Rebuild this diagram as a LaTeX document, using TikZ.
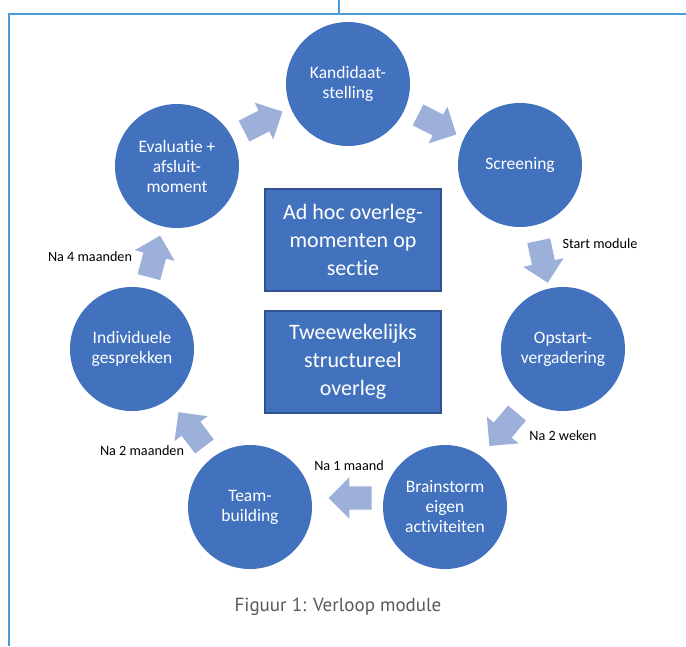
\documentclass[tikz,border=0pt]{standalone}
\usepackage{fontspec}
\setmainfont{Carlito}[RawFeature=-liga]
\newfontfamily\capfont{PT Sans}
\usetikzlibrary{shapes.arrows}
\definecolor{phaseblue}{RGB}{66,114,190}
\definecolor{boxline}{RGB}{47,82,143}
\definecolor{arrowblue}{RGB}{157,176,218}
\definecolor{frameblue}{RGB}{74,155,218}

\begin{document}
\begin{tikzpicture}[
  x=1pt, y=-1pt,
  phase/.style={circle, fill=phaseblue, minimum size=124pt, inner sep=0pt, text=white, align=center, font=\fontsize{17.5}{20}\selectfont},
  meeting/.style={draw=boxline, line width=1.2pt, fill=phaseblue, minimum width=176pt, minimum height=102pt, inner sep=0pt, text=white, align=center, font=\fontsize{22}{28}\selectfont},
  flow/.style={single arrow, fill=arrowblue, minimum height=43pt, inner xsep=0pt, inner ysep=11.5pt, single arrow head extend=9pt},
  note/.style={font=\fontsize{14.2}{16}\selectfont, inner sep=0pt},
  frame/.style={frameblue, line width=1.8pt}
]
\useasboundingbox (0,0) rectangle (686,646);

\draw[frame] (9,646) -- (9,14) -- (686,14);
\draw[frameblue, line width=1.2pt] (339,0) -- (339,14);

\node[phase] (kand) at (348,84) {Kandidaat-\\stelling};
\node[phase] (scr) at (520,165) {Screening};
\node[phase] (opst) at (563,349) {Opstart-\\vergadering};
\node[phase] (brain) at (445,507) {Brainstorm\\eigen\\activiteiten};
\node[phase] (team) at (250,507) {Team-\\building};
\node[phase] (indiv) at (132,349) {Individuele\\gesprekken};
\node[phase] (eval) at (177,166) {Evaluatie +\\afsluit-\\moment};

\node[meeting] (adhoc) at (353,240) {Ad hoc overleg-\\momenten op\\sectie};
\node[meeting] (twee) at (353,362) {Tweewekelijks\\structureel\\overleg};

\node[flow, rotate=-27] (a1) at (432,122) {};
\node[flow, rotate=-78] (a2) at (542,256) {};
\node[flow, rotate=-130] (a3) at (507,425) {};
\node[flow, rotate=180] (a4) at (356,498) {};
\node[flow, rotate=127] (a5) at (195,434) {};
\node[flow, rotate=75] (a6) at (153,262) {};
\node[flow, rotate=27] (a7) at (258,124) {};

\node[note] (start) at (600,244) {Start module};
\node[note] (weken) at (563,436) {Na 2 weken};
\node[note] (maand) at (349,466) {Na 1 maand};
\node[note] (twomnd) at (142,451) {Na 2 maanden};
\node[note] (fourmnd) at (90,257) {Na 4 maanden};

\node[font=\capfont\fontsize{19}{22}\selectfont, text=black!65] (cap) at (338,607) {Figuur 1: Verloop module};
\end{tikzpicture}
\end{document}
